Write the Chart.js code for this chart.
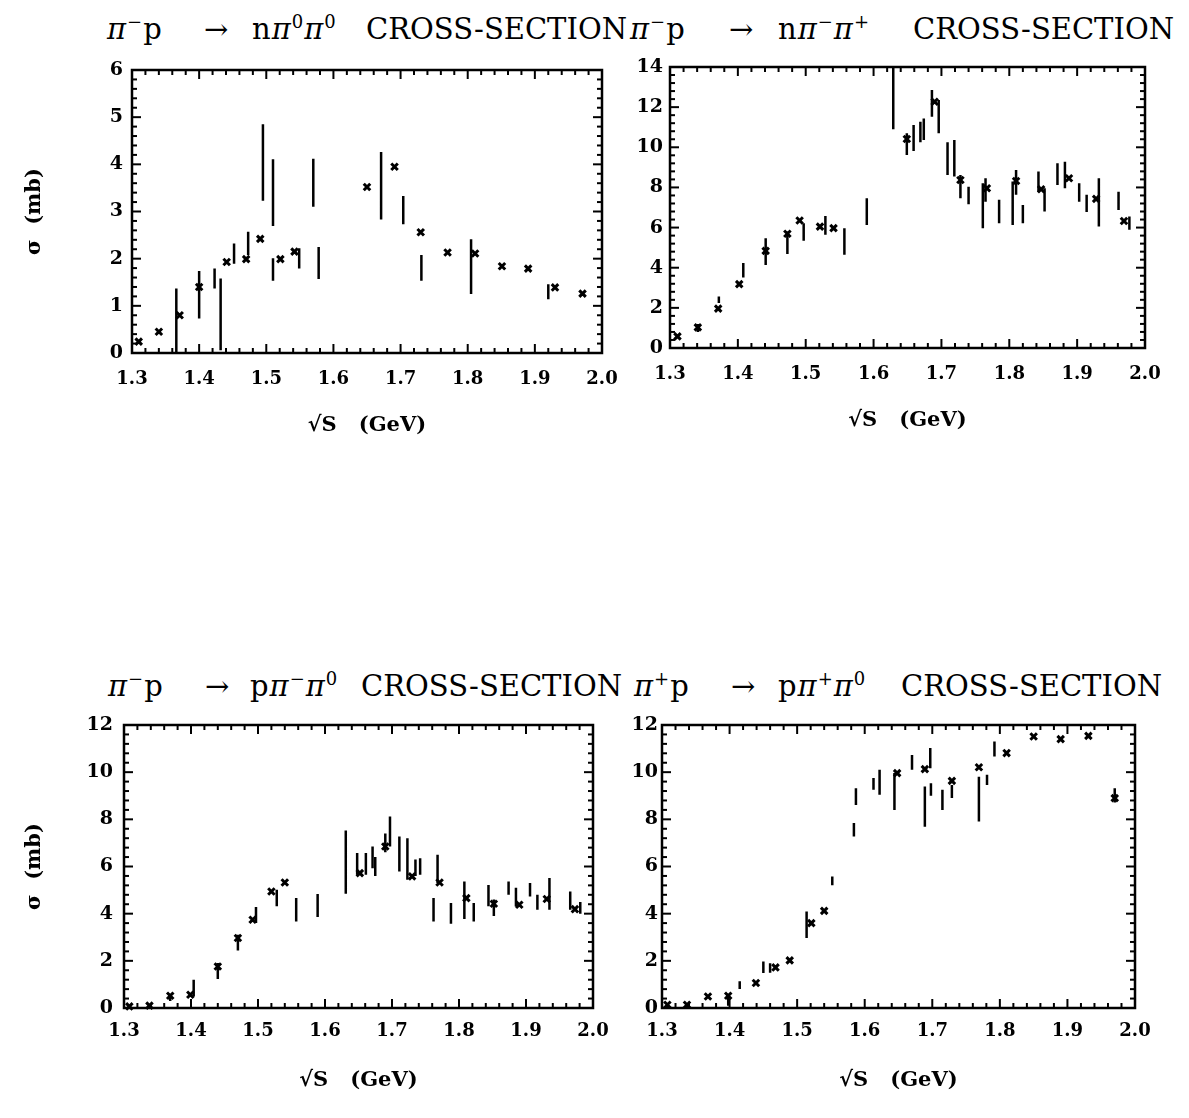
<!DOCTYPE html>
<html><head><meta charset="utf-8">
<script src="https://cdn.jsdelivr.net/npm/chart.js@4.4.1/dist/chart.umd.min.js"></script>
<style>
html,body{margin:0;padding:0;background:#fff;}
body{width:1189px;height:1118px;position:relative;overflow:hidden;}
canvas{position:absolute;}
.t{position:absolute;font-family:"DejaVu Serif",serif;font-size:29px;line-height:29px;color:#000;white-space:pre;}
.t sup{font-size:0.62em;line-height:0;vertical-align:0.62em;}
.t i{font-style:italic;}
</style></head><body>

<span class="t" style="left:107px;top:15px;letter-spacing:1px"><i>π</i><sup>−</sup>p</span>
<span class="t" style="left:204px;top:15px">→</span>
<span class="t" style="left:252px;top:15px;letter-spacing:1px">n<i>π</i><sup>0</sup><i>π</i><sup>0</sup></span>
<span class="t" style="left:366px;top:15px">CROSS-SECTION</span>

<span class="t" style="left:630px;top:15px;letter-spacing:1px"><i>π</i><sup>−</sup>p</span>
<span class="t" style="left:729px;top:15px">→</span>
<span class="t" style="left:778px;top:15px;letter-spacing:1px">n<i>π</i><sup>−</sup><i>π</i><sup>+</sup></span>
<span class="t" style="left:913px;top:15px">CROSS-SECTION</span>

<span class="t" style="left:108px;top:672px;letter-spacing:1px"><i>π</i><sup>−</sup>p</span>
<span class="t" style="left:205px;top:672px">→</span>
<span class="t" style="left:250px;top:672px;letter-spacing:1px">p<i>π</i><sup>−</sup><i>π</i><sup>0</sup></span>
<span class="t" style="left:361px;top:672px">CROSS-SECTION</span>

<span class="t" style="left:634px;top:672px;letter-spacing:1px"><i>π</i><sup>+</sup>p</span>
<span class="t" style="left:731px;top:672px">→</span>
<span class="t" style="left:778px;top:672px;letter-spacing:1px">p<i>π</i><sup>+</sup><i>π</i><sup>0</sup></span>
<span class="t" style="left:901px;top:672px">CROSS-SECTION</span>

<canvas id="c1" width="620" height="400" style="left:0;top:50px"></canvas>
<canvas id="c2" width="564" height="400" style="left:625px;top:50px"></canvas>
<canvas id="c3" width="620" height="418" style="left:0;top:700px"></canvas>
<canvas id="c4" width="569" height="418" style="left:620px;top:700px"></canvas>

<script>
// ---------- shared axis ticks ----------
const xTickValues = [1.3, 1.4, 1.5, 1.6, 1.7, 1.8, 1.9, 2.0];
const xTickLabels = ['1.3', '1.4', '1.5', '1.6', '1.7', '1.8', '1.9', '2.0'];
const p1YTicks = [0, 1, 2, 3, 4, 5, 6];
const p2YTicks = [0, 2, 4, 6, 8, 10, 12, 14];
const p3YTicks = [0, 2, 4, 6, 8, 10, 12];
const p4YTicks = [0, 2, 4, 6, 8, 10, 12];

// ---------- panel 1: pi- p -> n pi0 pi0 ----------
const p1MarkX = [1.310, 1.340, 1.371, 1.400, 1.441, 1.470, 1.491, 1.521, 1.542, 1.650, 1.691, 1.730, 1.770, 1.811, 1.851, 1.890, 1.930, 1.971];
const p1MarkY = [0.24, 0.45, 0.80, 1.40, 1.93, 1.99, 2.42, 1.99, 2.15, 3.52, 3.95, 2.56, 2.13, 2.11, 1.84, 1.79, 1.39, 1.26];
const p1BarX  = [1.366, 1.400, 1.423, 1.432, 1.452, 1.473, 1.495, 1.510, 1.510, 1.549, 1.570, 1.578, 1.671, 1.704, 1.731, 1.805, 1.920];
const p1BarLo = [0.00, 0.73, 1.37, 0.06, 1.89, 2.08, 3.23, 2.69, 1.53, 1.79, 3.10, 1.57, 2.83, 2.73, 1.53, 1.25, 1.14];
const p1BarHi = [1.37, 1.74, 1.79, 1.58, 2.32, 2.57, 4.85, 4.11, 2.01, 2.22, 4.12, 2.25, 4.26, 3.33, 2.08, 2.41, 1.46];

// ---------- panel 2: pi- p -> n pi- pi+ ----------
const p2MarkX = [1.311, 1.341, 1.371, 1.402, 1.441, 1.473, 1.491, 1.521, 1.541, 1.649, 1.690, 1.728, 1.767, 1.810, 1.847, 1.888, 1.928, 1.969];
const p2MarkY = [0.58, 1.03, 1.96, 3.18, 4.84, 5.69, 6.35, 6.05, 5.97, 10.41, 12.27, 8.37, 7.96, 8.32, 7.91, 8.46, 7.43, 6.33];
const p2BarX  = [1.341, 1.372, 1.408, 1.441, 1.473, 1.497, 1.529, 1.557, 1.590, 1.629, 1.649, 1.659, 1.669, 1.674, 1.686, 1.696, 1.709, 1.719, 1.728, 1.740, 1.761, 1.765, 1.785, 1.805, 1.810, 1.820, 1.843, 1.852, 1.871, 1.882, 1.903, 1.914, 1.932, 1.961, 1.977];
const p2BarLo = [0.80, 2.24, 3.51, 4.14, 4.68, 5.34, 5.64, 4.64, 6.13, 10.90, 9.62, 9.82, 10.25, 10.36, 11.52, 10.70, 8.62, 8.54, 7.46, 7.16, 5.97, 7.29, 6.22, 6.13, 7.63, 6.22, 7.79, 6.80, 8.12, 7.96, 7.29, 6.77, 6.05, 6.88, 5.89];
const p2BarHi = [1.20, 2.57, 4.23, 5.47, 5.80, 6.22, 6.58, 5.97, 7.46, 14.00, 10.70, 11.11, 11.27, 11.44, 12.85, 12.35, 10.25, 10.36, 8.62, 8.04, 8.21, 8.46, 7.38, 8.29, 8.87, 7.13, 8.79, 7.96, 9.20, 9.28, 8.21, 7.63, 8.46, 7.79, 6.55];

// ---------- panel 3: pi- p -> p pi- pi0 ----------
const p3MarkX = [1.308, 1.338, 1.369, 1.399, 1.440, 1.470, 1.492, 1.520, 1.540, 1.652, 1.690, 1.730, 1.771, 1.811, 1.852, 1.890, 1.931, 1.973];
const p3MarkY = [0.07, 0.10, 0.52, 0.56, 1.76, 2.97, 3.74, 4.94, 5.32, 5.72, 6.85, 5.58, 5.32, 4.66, 4.42, 4.38, 4.62, 4.19];
const p3BarX  = [1.369, 1.404, 1.440, 1.470, 1.497, 1.528, 1.557, 1.589, 1.631, 1.648, 1.661, 1.671, 1.675, 1.690, 1.697, 1.711, 1.723, 1.735, 1.742, 1.762, 1.768, 1.788, 1.808, 1.822, 1.844, 1.852, 1.874, 1.885, 1.906, 1.917, 1.935, 1.966, 1.981];
const p3BarLo = [0.30, 0.49, 1.23, 2.44, 3.60, 4.31, 3.67, 3.86, 4.84, 5.65, 5.65, 5.93, 5.60, 6.60, 6.85, 5.79, 5.44, 5.60, 5.65, 3.67, 5.30, 3.57, 3.77, 3.67, 4.31, 3.90, 4.80, 4.30, 4.73, 4.17, 4.17, 4.17, 4.00];
const p3BarHi = [0.60, 1.20, 1.91, 3.11, 4.28, 5.01, 4.66, 4.83, 7.53, 6.57, 6.57, 6.85, 6.40, 7.40, 8.12, 7.27, 7.20, 6.30, 6.35, 4.66, 6.50, 4.45, 5.36, 4.45, 5.22, 4.60, 5.36, 5.10, 5.30, 4.80, 5.51, 4.94, 4.50];

// ---------- panel 4: pi+ p -> p pi+ pi0 ----------
const p4MarkX = [1.308, 1.337, 1.368, 1.398, 1.439, 1.468, 1.489, 1.521, 1.540, 1.648, 1.689, 1.729, 1.769, 1.810, 1.850, 1.890, 1.931, 1.970];
const p4MarkY = [0.14, 0.14, 0.49, 0.52, 1.06, 1.72, 2.02, 3.60, 4.12, 9.96, 10.13, 9.63, 10.21, 10.81, 11.51, 11.40, 11.54, 8.90];
const p4BarX  = [1.398, 1.415, 1.450, 1.460, 1.514, 1.552, 1.584, 1.587, 1.613, 1.622, 1.644, 1.670, 1.689, 1.697, 1.698, 1.715, 1.729, 1.769, 1.781, 1.792, 1.970];
const p4BarLo = [0.10, 0.81, 1.48, 1.50, 2.97, 5.20, 7.27, 8.61, 9.25, 9.04, 8.40, 10.10, 7.69, 10.17, 9.00, 8.40, 8.90, 7.91, 9.46, 10.66, 8.71];
const p4BarHi = [0.60, 1.13, 1.97, 1.90, 4.09, 5.58, 7.84, 9.32, 9.75, 10.10, 9.96, 10.73, 9.39, 11.02, 9.53, 9.25, 9.46, 9.81, 9.89, 11.30, 9.32];

// ---------- frame + inward ticks (axis decoration) ----------
const frameTicks = {
  id: 'frameTicks',
  afterDatasetsDraw(chart, args, opts) {
    const {ctx, chartArea: a, scales: {x, y}} = chart;
    ctx.save();
    ctx.strokeStyle = '#000';
    ctx.lineCap = 'butt';
    const seg = (x1, y1, x2, y2) => { ctx.beginPath(); ctx.moveTo(x1, y1); ctx.lineTo(x2, y2); ctx.stroke(); };
    ctx.lineWidth = 2;
    const nx = Math.round((x.max - x.min) / 0.02);
    for (let i = 0; i <= nx; i++) {
      const px = x.getPixelForValue(x.min + i * 0.02);
      const len = (i % 5 === 0) ? 9 : 5;
      seg(px, a.bottom, px, a.bottom - len);
      seg(px, a.top, px, a.top + len);
    }
    const ny = Math.round((y.max - y.min) / opts.yMinor);
    for (let i = 0; i <= ny; i++) {
      const py = y.getPixelForValue(y.min + i * opts.yMinor);
      const len = (i % 5 === 0) ? 9 : 5;
      seg(a.left, py, a.left + len, py);
      seg(a.right, py, a.right - len, py);
    }
    ctx.lineWidth = 2.5;
    ctx.strokeRect(a.left, a.top, a.right - a.left, a.bottom - a.top);
    ctx.restore();
  }
};

const tickFontX = {family: '"DejaVu Serif", serif', size: 18, weight: 'bold'};
const tickFontY = {family: '"DejaVu Serif", serif', size: 19, weight: 'bold'};
const titleFont = {family: '"DejaVu Serif", serif', size: 21, weight: 'bold'};

function build(id, mx, my, bx, blo, bhi, yTicks, yMinor, g) {
  const barData = [];
  for (let i = 0; i < bx.length; i++) {
    barData.push({x: bx[i], y: blo[i]}, {x: bx[i], y: bhi[i]}, {x: bx[i], y: null});
  }
  const markData = mx.map((v, i) => ({x: v, y: my[i]}));
  return new Chart(document.getElementById(id), {
    type: 'scatter',
    data: {datasets: [
      {label: 'error bars', data: barData, showLine: true, spanGaps: false, borderColor: '#000',
       borderWidth: 2.5, pointRadius: 0, pointHoverRadius: 0, clip: false},
      {label: 'points', data: markData, pointStyle: 'crossRot', pointRadius: 4.6, pointBorderWidth: 3,
       borderColor: '#000', backgroundColor: '#000', clip: false}
    ]},
    options: {
      responsive: false, animation: false, events: [],
      layout: {padding: {top: g.pt, right: g.pr, left: 0, bottom: 0}},
      plugins: {legend: {display: false}, tooltip: {enabled: false}, frameTicks: {yMinor: yMinor}},
      scales: {
        x: {
          type: 'linear', min: 1.3, max: 2.0,
          afterBuildTicks: s => { s.ticks = xTickValues.map(v => ({value: v})); },
          afterFit: s => { s.height = g.xh; s.paddingLeft = 0; s.paddingRight = 0; },
          ticks: {callback: (v, i) => xTickLabels[i], font: tickFontX, color: '#000', padding: g.xp, maxRotation: 0, autoSkip: false},
          grid: {display: false, drawTicks: false}, border: {display: false},
          title: {display: true, text: '√S   (GeV)', font: titleFont, color: '#000', padding: {top: 0, bottom: g.tb}}
        },
        y: {
          type: 'linear', min: yTicks[0], max: yTicks[yTicks.length - 1],
          afterBuildTicks: s => { s.ticks = yTicks.map(v => ({value: v})); },
          afterFit: s => { s.width = g.yw; s.paddingTop = 0; s.paddingBottom = 0; },
          ticks: {callback: (v, i) => String(yTicks[i]), font: tickFontY, color: '#000', padding: g.yp, autoSkip: false},
          grid: {display: false, drawTicks: false}, border: {display: false},
          title: {display: g.ytitle, text: 'σ  (mb)', font: titleFont, color: '#000', padding: {top: 22, bottom: 0}}
        }
      }
    },
    plugins: [frameTicks]
  });
}

build('c1', p1MarkX, p1MarkY, p1BarX, p1BarLo, p1BarHi, p1YTicks, 0.2, {pt: 20, pr: 18, xh: 97, yw: 132, xp: 16, yp: 9, tb: 12, ytitle: true});
build('c2', p2MarkX, p2MarkY, p2BarX, p2BarLo, p2BarHi, p2YTicks, 0.4, {pt: 17, pr: 44, xh: 102, yw: 45, xp: 16, yp: 7, tb: 17, ytitle: false});
build('c3', p3MarkX, p3MarkY, p3BarX, p3BarLo, p3BarHi, p3YTicks, 0.4, {pt: 25, pr: 27, xh: 110, yw: 124, xp: 13, yp: 11, tb: 25, ytitle: true});
build('c4', p4MarkX, p4MarkY, p4BarX, p4BarLo, p4BarHi, p4YTicks, 0.4, {pt: 25, pr: 54, xh: 110, yw: 42, xp: 13, yp: 4, tb: 25, ytitle: false});
</script>
</body></html>
